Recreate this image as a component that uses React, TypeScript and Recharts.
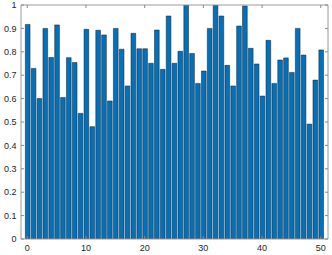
import React from 'react';
import { BarChart, Bar, XAxis, YAxis } from 'recharts';

const xValues = Array.from({ length: 51 }, (_, i) => i);
const heights = [
  0.917, 0.729, 0.6, 0.9, 0.776, 0.915, 0.605, 0.775, 0.754, 0.537,
  0.896, 0.48, 0.892, 0.872, 0.59, 0.9, 0.811, 0.654, 0.879, 0.813,
  0.813, 0.751, 0.893, 0.725, 0.953, 0.751, 0.802, 1.0, 0.793, 0.665,
  0.718, 0.9, 1.0, 0.953, 0.742, 0.654, 0.91, 0.996, 0.815, 0.748,
  0.611, 0.849, 0.665, 0.765, 0.774, 0.712, 0.9, 0.786, 0.491, 0.679,
  0.808,
];
const xTicks = [0, 10, 20, 30, 40, 50];
const yTicks = [0, 0.1, 0.2, 0.3, 0.4, 0.5, 0.6, 0.7, 0.8, 0.9, 1];
const yTickLabels = ['0', '0.1', '0.2', '0.3', '0.4', '0.5', '0.6', '0.7', '0.8', '0.9', '1'];

const data = xValues.map((x, i) => ({ x, h: heights[i] }));

const AXIS = '#9a9a9a';
const TICK = '#8a8a8a';
const TEXT = '#262626';
const FONT = '"Liberation Sans", Arial, sans-serif';
const FS = 9;
const TL = 3;

const yLabel = (v: number) => {
  const i = yTicks.findIndex((t) => Math.abs(t - v) < 1e-9);
  return i >= 0 ? yTickLabels[i] : String(v);
};

const LeftTick = (props: any) => {
  const { x, y, payload } = props;
  return (
    <g>
      <line x1={x} x2={x + TL} y1={y} y2={y} stroke={TICK} strokeWidth={1} />
      <text x={x - 4.5} y={y} dy="0.35em" textAnchor="end" fill={TEXT} fontSize={FS} fontFamily={FONT}>
        {yLabel(payload.value)}
      </text>
    </g>
  );
};

const RightTick = (props: any) => {
  const { x, y } = props;
  return <line x1={x} x2={x - TL} y1={y} y2={y} stroke={TICK} strokeWidth={1} />;
};

const BottomTick = (props: any) => {
  const { x, y, payload } = props;
  return (
    <g>
      <line x1={x} x2={x} y1={y} y2={y - TL} stroke={TICK} strokeWidth={1} />
      <text x={x} y={y + 12} textAnchor="middle" fill={TEXT} fontSize={FS} fontFamily={FONT}>
        {String(payload.value)}
      </text>
    </g>
  );
};

const TopTick = (props: any) => {
  const { x, y } = props;
  return <line x1={x} x2={x} y1={y} y2={y + TL} stroke={TICK} strokeWidth={1} />;
};

const X_DOMAIN: [number, number] = [-1.07, 51.23];

export default function App() {
  return (
    <div style={{ position: 'absolute', left: 0, top: 0, width: 332, height: 255, background: '#fff' }}>
      <BarChart
        width={332}
        height={255}
        data={data}
        margin={{ top: 0, right: 0, bottom: 0, left: 0 }}
        barCategoryGap={0}
        barGap={0}
      >
        <XAxis
          dataKey="x"
          type="number"
          domain={X_DOMAIN}
          ticks={xTicks}
          allowDataOverflow
          height={16}
          tickSize={0}
          tickMargin={0}
          tickLine={false}
          axisLine={{ stroke: AXIS }}
          tick={<BottomTick />}
          interval={0}
        />
        <XAxis
          xAxisId="top"
          dataKey="x"
          orientation="top"
          type="number"
          domain={X_DOMAIN}
          ticks={xTicks}
          allowDataOverflow
          height={5}
          tickSize={0}
          tickMargin={0}
          tickLine={false}
          axisLine={{ stroke: AXIS }}
          tick={<TopTick />}
          interval={0}
        />
        <YAxis
          type="number"
          domain={[0, 1]}
          ticks={yTicks}
          allowDataOverflow
          width={21}
          tickSize={0}
          tickMargin={0}
          tickLine={false}
          axisLine={{ stroke: AXIS }}
          tick={<LeftTick />}
          interval={0}
        />
        <YAxis
          yAxisId="right"
          orientation="right"
          type="number"
          domain={[0, 1]}
          ticks={yTicks}
          allowDataOverflow
          width={4}
          tickSize={0}
          tickMargin={0}
          tickLine={false}
          axisLine={{ stroke: AXIS }}
          tick={<RightTick />}
          interval={0}
        />
        <Bar
          dataKey="h"
          fill="#0072BD"
          stroke="#1a1a1a"
          strokeWidth={0.5}
          barSize={4.7}
          isAnimationActive={false}
        />
      </BarChart>
    </div>
  );
}
